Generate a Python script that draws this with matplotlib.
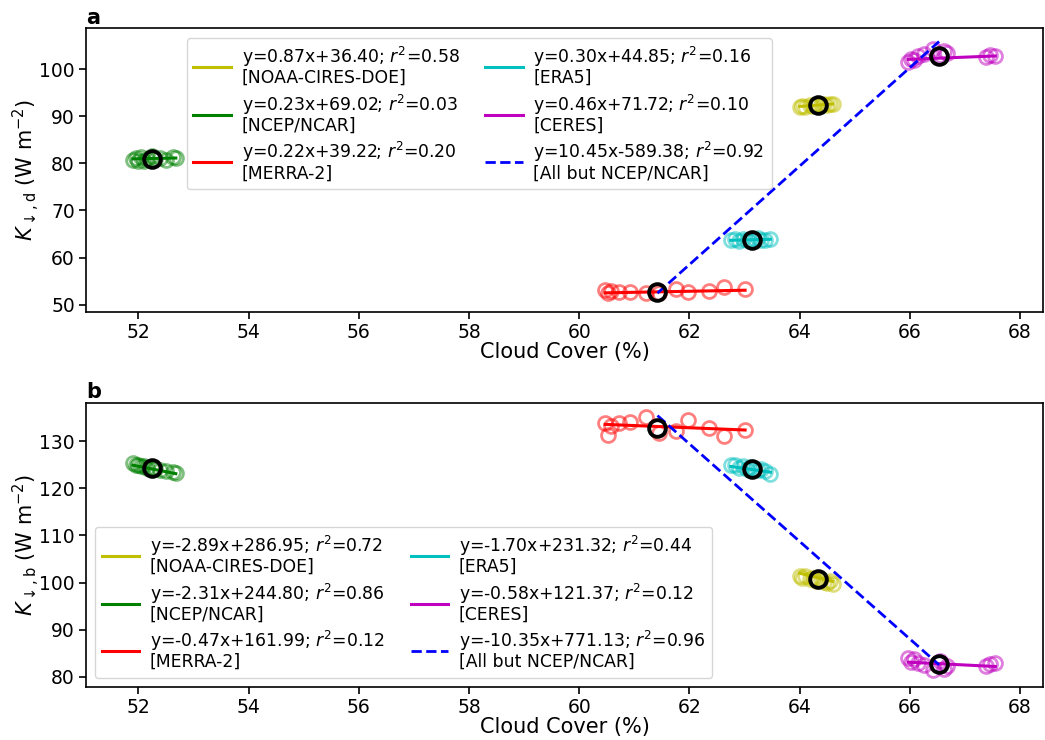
import numpy as np
import matplotlib
matplotlib.use("Agg")
import matplotlib.pyplot as plt

# cloud cover (%) per product, same in both panels
x_noaa = [64.0, 64.05, 64.1, 64.18, 64.25, 64.3, 64.38, 64.45, 64.5, 64.55, 64.6]
x_ncep = [51.9, 51.95, 52.0, 52.05, 52.1, 52.15, 52.25, 52.3, 52.4, 52.5, 52.62, 52.68]
x_merra = [60.47, 60.53, 60.57, 60.72, 60.93, 61.21, 61.45, 61.75, 61.97, 62.35, 62.63, 63.01]
x_era5 = [62.75, 62.82, 62.9, 62.98, 63.05, 63.1, 63.18, 63.25, 63.3, 63.38, 63.47]
x_ceres = [65.97, 66.02, 66.08, 66.15, 66.25, 66.42, 66.55, 66.62, 66.68, 67.38, 67.45, 67.55]

# panel a: K down, d
ya_noaa = [92.0, 92.2, 91.9, 92.4, 92.1, 92.5, 92.3, 92.6, 92.4, 92.7, 92.5]
ya_ncep = [80.8, 81.2, 80.6, 81.3, 80.4, 81.0, 81.5, 80.9, 81.2, 80.7, 81.4, 81.1]
ya_merra = [53.2, 52.5, 52.9, 52.6, 52.6, 52.4, 52.5, 53.3, 52.6, 52.9, 53.7, 53.3]
ya_era5 = [63.7, 63.9, 63.6, 64.0, 63.8, 63.5, 63.9, 64.1, 63.7, 63.8, 63.9]
ya_ceres = [101.5, 102.2, 101.9, 102.7, 103.3, 104.3, 103.0, 103.8, 103.5, 102.6, 103.0, 102.7]

# panel b: K down, b
yb_noaa = [101.3, 100.9, 101.5, 100.8, 101.0, 100.4, 100.6, 100.2, 99.9, 100.3, 99.6]
yb_ncep = [125.3, 125.0, 124.9, 124.7, 124.8, 124.4, 124.3, 124.0, 123.9, 123.6, 123.4, 123.2]
yb_merra = [133.9, 131.4, 133.2, 133.9, 134.0, 135.1, 131.7, 132.1, 134.4, 132.8, 131.2, 132.4]
yb_era5 = [124.9, 125.0, 124.4, 124.7, 124.0, 124.5, 124.2, 123.8, 124.1, 123.6, 123.0]
yb_ceres = [84.0, 83.2, 83.7, 82.9, 82.5, 81.5, 83.3, 81.7, 82.4, 82.4, 82.7, 83.0]

# product means (black circles)
mean_x = [64.34, 52.25, 61.42, 63.14, 66.53]
mean_a = [92.3, 81.0, 52.8, 63.8, 102.8]
mean_b = [100.7, 124.3, 132.8, 124.2, 82.8]

names = ["NOAA-CIRES-DOE", "NCEP/NCAR", "MERRA-2", "ERA5", "CERES"]
colors = ["y", "g", "r", "c", "m"]

# fit coefficients (slope, intercept, r2) from the legends
fit_a = [(0.87, 36.40, 0.58), (0.23, 69.02, 0.03), (0.22, 39.22, 0.20),
         (0.30, 44.85, 0.16), (0.46, 71.72, 0.10)]
fit_all_a = (10.45, -589.38, 0.92)
fit_b = [(-2.89, 286.95, 0.72), (-2.31, 244.80, 0.86), (-0.47, 161.99, 0.12),
         (-1.70, 231.32, 0.44), (-0.58, 121.37, 0.12)]
fit_all_b = (-10.35, 771.13, 0.96)

xs = [x_noaa, x_ncep, x_merra, x_era5, x_ceres]
ya = [ya_noaa, ya_ncep, ya_merra, ya_era5, ya_ceres]
yb = [yb_noaa, yb_ncep, yb_merra, yb_era5, yb_ceres]


def fmt(m, c, r2):
    return f"y={m:.2f}x{c:+.2f}; $r^2$={r2:.2f}"


def draw(ax, ys, fits, fit_all, means_y, ylabel, tag, ylim, yticks, legend_kw):
    handles = []
    for x, y, col, (m, c, r2), name in zip(xs, ys, colors, fits, names):
        ax.plot(x, y, 'o', mfc='none', mec=col, ms=10, mew=2, alpha=0.5, zorder=2)
        xl = np.array([min(x), max(x)])
        h, = ax.plot(xl, m * xl + c, '-', color=col, lw=2.2, zorder=3,
                     label=fmt(m, c, r2) + "\n[" + name + "]")
        handles.append(h)
    ax.plot(mean_x, means_y, 'o', mfc='none', mec='k', ms=12, mew=2.8, ls='none', zorder=5)
    # all-but-NCEP fit across product means
    sub = [mx for mx, n in zip(mean_x, names) if n != "NCEP/NCAR"]
    xl = np.array([min(sub), max(sub)])
    m, c, r2 = fit_all
    h, = ax.plot(xl, m * xl + c, '--', color='b', lw=2, zorder=4,
                 label=fmt(m, c, r2) + "\n[All but NCEP/NCAR]")
    handles.append(h)
    ax.set_xlim(51.05, 68.42)
    ax.set_ylim(*ylim)
    ax.set_xticks(np.arange(52, 69, 2))
    ax.set_yticks(yticks)
    ax.set_xlabel("Cloud Cover (%)", fontsize=15, labelpad=0)
    ax.set_ylabel(ylabel, fontsize=15, labelpad=-2)
    ax.set_title(tag, loc='left', fontweight='bold', fontsize=15, pad=3)
    ax.tick_params(direction='out', length=5, width=1.2, labelsize=13.5, pad=3)
    for s in ax.spines.values():
        s.set_linewidth(1.2)
    leg = ax.legend(handles=handles, ncol=2, handlelength=2.2, fontsize=12.4,
                    labelspacing=0.32, columnspacing=1.5, handletextpad=0.6, **legend_kw)
    for t in leg.get_texts():
        t.set_linespacing(1.0)


fig = plt.figure(figsize=(10.45, 7.4), dpi=100)
ax1 = fig.add_axes([0.0823, 0.578, 0.916, 0.384])
ax2 = fig.add_axes([0.0823, 0.072, 0.916, 0.384])

draw(ax1, ya, fit_a, fit_all_a, mean_a, r'$K_{\downarrow,\mathrm{d}}$ (W m$^{-2}$)', 'a',
     (48.4, 108.7), [50, 60, 70, 80, 90, 100],
     dict(loc='upper left', bbox_to_anchor=(0.105, 0.965), borderaxespad=0))
draw(ax2, yb, fit_b, fit_all_b, mean_b, r'$K_{\downarrow,\mathrm{b}}$ (W m$^{-2}$)', 'b',
     (77.9, 138.2), [80, 90, 100, 110, 120, 130],
     dict(loc='lower left'))

fig.savefig("out.png", dpi=100)
